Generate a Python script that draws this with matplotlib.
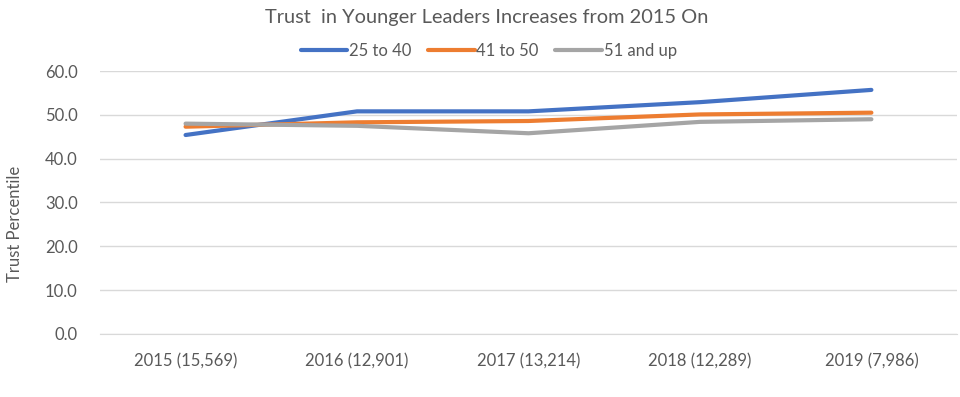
import matplotlib
matplotlib.use("Agg")
import matplotlib.pyplot as plt

categories = ["2015 (15,569)", "2016 (12,901)", "2017 (13,214)", "2018 (12,289)", "2019 (7,986)"]
age_25_40 = [45.4, 50.8, 50.8, 52.9, 55.7]
age_41_50 = [47.3, 48.3, 48.6, 50.1, 50.5]
age_51_up = [48.0, 47.5, 45.8, 48.4, 49.0]
series_labels = ["25 to 40", "41 to 50", "51 and up"]
yticks = [0, 10, 20, 30, 40, 50, 60]

plt.rcParams['font.family'] = ['Lato', 'DejaVu Sans']
txt = '#595959'

fig = plt.figure(figsize=(9.6, 3.97), dpi=100)
ax = fig.add_axes([0.104, 0.159, 0.893, 0.662])

colors = ['#4472C4', '#ED7D31', '#A5A5A5']
x = range(len(categories))
for vals, c, lbl in zip([age_25_40, age_41_50, age_51_up], colors, series_labels):
    ax.plot(x, vals, color=c, linewidth=3, label=lbl, solid_capstyle='round', zorder=3)

ax.set_xlim(-0.5, len(categories) - 0.5)
ax.set_ylim(0, 60)
ax.set_yticks(yticks)
ax.set_yticklabels(["{:.1f}".format(v) for v in yticks])
ax.set_xticks(list(x))
ax.set_xticklabels(categories)
ax.grid(axis='y', color='#D9D9D9', linewidth=1)
ax.set_axisbelow(True)
for s in ['top', 'right', 'left']:
    ax.spines[s].set_visible(False)
ax.spines['bottom'].set_color('#D9D9D9')
ax.tick_params(axis='both', length=0, colors=txt, labelsize=12)
ax.tick_params(axis='y', pad=16)
ax.tick_params(axis='x', pad=14)

fig.text(0.016, 0.436, "Trust Percentile", rotation=90, ha='center', va='center',
         color=txt, fontsize=12)
fig.text(0.507, 0.955, "Trust  in Younger Leaders Increases from 2015 On", ha='center', va='center',
         color=txt, fontsize=14.4)
fig.legend(loc='center', bbox_to_anchor=(0.509, 0.872), ncol=3, frameon=False, fontsize=12,
           handlelength=2.8, handletextpad=0.1, columnspacing=1.0, labelcolor=txt)

plt.savefig("out.png", dpi=100)
